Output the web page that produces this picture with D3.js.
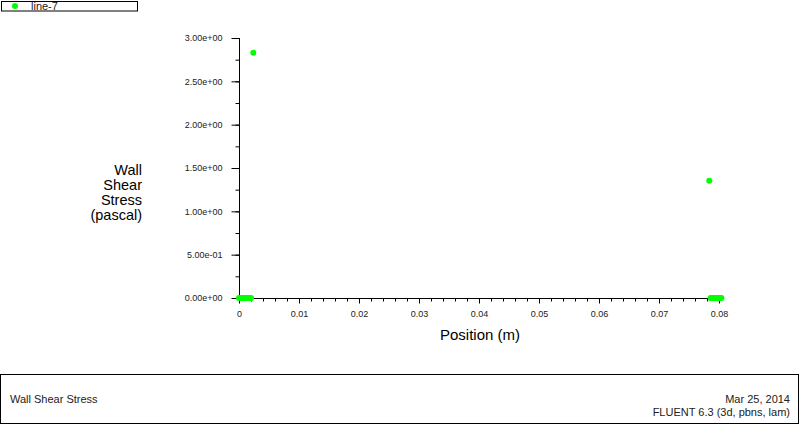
<!DOCTYPE html>
<html>
<head>
<meta charset="utf-8">
<script src="https://cdn.jsdelivr.net/npm/d3@7"></script>
<style>
  html, body { margin: 0; padding: 0; background: #fff; }
  svg { display: block; font-family: Arial, "Liberation Sans", sans-serif; }
</style>
</head>
<body>
<svg id="chart" width="800" height="425"></svg>
<script>
// ---- data ----
const seriesName = "line-7";
const positions = [0.0000, 0.0002, 0.0004, 0.0006, 0.0008, 0.0010, 0.0012, 0.0014, 0.0016, 0.0018, 0.0020,
                   0.00239,
                   0.07838,
                   0.0786, 0.0788, 0.0790, 0.0792, 0.0794, 0.0796, 0.0798, 0.0800, 0.0802, 0.0804];
const stress    = [0, 0, 0, 0, 0, 0, 0, 0, 0, 0, 0,
                   2.83,
                   1.353,
                   0, 0, 0, 0, 0, 0, 0, 0, 0, 0];
const xTicks = [0, 0.01, 0.02, 0.03, 0.04, 0.05, 0.06, 0.07, 0.08];
const xTickLabels = ["0", "0.01", "0.02", "0.03", "0.04", "0.05", "0.06", "0.07", "0.08"];
const yTicks = [0, 0.5, 1.0, 1.5, 2.0, 2.5, 3.0];
const yTickLabels = ["0.00e+00", "5.00e-01", "1.00e+00", "1.50e+00", "2.00e+00", "2.50e+00", "3.00e+00"];
const yTitleLines = ["Wall", "Shear", "Stress", "(pascal)"];
const xTitle = "Position (m)";
const footerTitle = "Wall Shear Stress";
const footerDate = "Mar 25, 2014";
const footerVersion = "FLUENT 6.3 (3d, pbns, lam)";

// ---- layout ----
const svg = d3.select("#chart");
const x = d3.scaleLinear().domain([0, 0.08]).range([239, 719]);
const y = d3.scaleLinear().domain([0, 3]).range([298, 38]);
const green = "#00ff00";
const textCol = "#222";

// legend box
svg.append("rect").attr("x", 1.5).attr("y", 1.5).attr("width", 136).attr("height", 9.5)
  .attr("fill", "#fff").attr("stroke", "#000").attr("stroke-width", 1);
svg.append("circle").attr("cx", 15).attr("cy", 6).attr("r", 3).attr("fill", green);
svg.append("text").attr("x", 31).attr("y", 10).attr("font-size", 11).attr("fill", textCol).text(seriesName);

// x axis
const xAxisG = svg.append("g").attr("transform", "translate(0,298.5)");
xAxisG.call(d3.axisBottom(x).tickValues(d3.range(0, 0.0801, 0.002)).tickSize(3).tickFormat(""))
  .call(g => g.select(".domain").remove());
xAxisG.append("g").call(d3.axisBottom(x).tickValues(xTicks).tickSize(5)
    .tickFormat((d, i) => xTickLabels[i]))
  .call(g => g.select(".domain").remove())
  .call(g => g.selectAll("text").attr("font-size", 9).attr("fill", textCol).attr("dy", "1.2em")
    .attr("font-family", "Arial, 'Liberation Sans', sans-serif"));
xAxisG.append("line").attr("x1", x(0)).attr("x2", x(0.0805)).attr("y1", 0).attr("y2", 0).attr("stroke", "#000");
xAxisG.selectAll("line").attr("stroke", "#000");

// y axis
const yAxisG = svg.append("g").attr("transform", "translate(239.5,0)");
yAxisG.call(d3.axisLeft(y).tickValues(d3.range(0, 3.01, 0.25)).tickSize(4).tickFormat(""))
  .call(g => g.select(".domain").remove());
yAxisG.append("g").call(d3.axisLeft(y).tickValues(yTicks).tickSize(8)
    .tickFormat((d, i) => yTickLabels[i]))
  .call(g => g.select(".domain").remove())
  .call(g => g.selectAll("text").attr("font-size", 9).attr("fill", textCol).attr("x", -17)
    .attr("font-family", "Arial, 'Liberation Sans', sans-serif"));
yAxisG.append("line").attr("x1", 0).attr("x2", 0).attr("y1", y(0)).attr("y2", y(3)).attr("stroke", "#000");
yAxisG.selectAll("line").attr("stroke", "#000");

// axis titles
const yt = svg.append("text").attr("text-anchor", "end").attr("font-size", 14.5).attr("fill", "#000");
yTitleLines.forEach((t, i) => {
  yt.append("tspan").attr("x", 142).attr("y", 175 + i * 15).text(t);
});
svg.append("text").attr("x", 480).attr("y", 340).attr("text-anchor", "middle")
  .attr("font-size", 15).attr("fill", "#000").text(xTitle);

// points
svg.append("g").selectAll("circle").data(positions.map((p, i) => [p, stress[i]]))
  .join("circle")
  .attr("cx", d => x(d[0])).attr("cy", d => y(d[1])).attr("r", 3).attr("fill", green);

// footer box
svg.append("rect").attr("x", 0.5).attr("y", 374.5).attr("width", 798).attr("height", 49)
  .attr("fill", "#fff").attr("stroke", "#000");
svg.append("text").attr("x", 10).attr("y", 403).attr("font-size", 11).attr("fill", textCol).text(footerTitle);
svg.append("text").attr("x", 790).attr("y", 403).attr("text-anchor", "end").attr("font-size", 11).attr("fill", textCol).text(footerDate);
svg.append("text").attr("x", 790).attr("y", 416).attr("text-anchor", "end").attr("font-size", 11).attr("fill", textCol).text(footerVersion);
</script>
</body>
</html>
